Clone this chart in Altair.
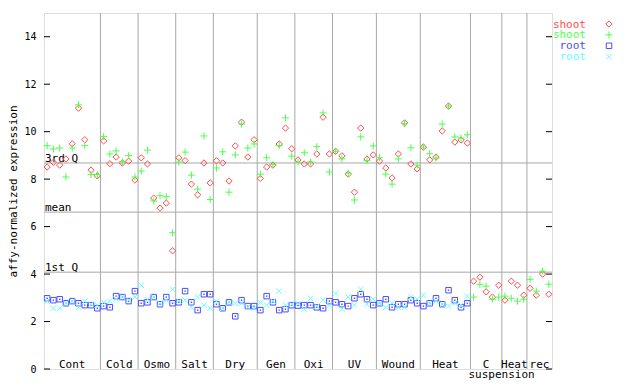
import altair as alt
import pandas as pd

# ---------------- data ----------------
group_names = ["Cont", "Cold", "Osmo", "Salt", "Dry", "Gen", "Oxi", "UV",
               "Wound", "Heat", "C", "Heat", "rec"]
group_sizes = [9, 6, 6, 6, 7, 6, 6, 7, 7, 8, 5, 4, 4]
second_line_label = "suspension"
second_line_group = 10

shoot_red = [
    8.51, 8.71, 8.59, 8.85, 9.49, 10.99, 9.66, 8.38, 8.14,
    9.61, 8.65, 8.93, 8.68, 8.76, 7.96,
    8.90, 8.64, 7.20, 6.78, 6.99, 4.98,
    8.90, 8.78, 7.79, 7.34, 8.68, 7.84,
    8.77, 8.68, 7.92, 9.40, 10.40, 8.93, 9.66,
    8.03, 8.51, 8.59, 9.48, 10.15, 9.28,
    8.81, 8.64, 8.64, 9.06, 10.61, 9.06,
    9.17, 8.98, 8.21, 7.45, 10.15, 8.85, 9.02,
    8.76, 8.47, 8.05, 9.06, 10.37, 8.64, 8.43,
    9.35, 8.81, 8.93, 10.03, 11.08, 9.56, 9.65, 9.52,
    3.70, 3.87, 3.25, 3.03, 3.53,
    2.90, 3.70, 3.53, 3.11,
    3.40, 3.11, 4.00, 3.15,
]
shoot_green = [
    9.41, 9.27, 9.31, 8.09, 9.31, 11.13, 9.41, 8.19, 8.19,
    9.79, 9.06, 9.19, 8.73, 8.99, 8.09,
    8.34, 9.22, 7.08, 7.30, 7.26, 5.74,
    8.72, 9.14, 8.17, 7.58, 9.82, 7.14,
    8.47, 9.15, 7.45, 9.02, 10.32, 9.31, 9.48,
    8.21, 8.90, 8.61, 9.41, 10.58, 8.97,
    8.71, 9.11, 8.72, 9.37, 10.79, 8.30,
    9.17, 8.85, 8.25, 7.12, 9.78, 8.78, 9.40,
    8.90, 8.21, 7.79, 8.85, 10.34, 9.32, 8.59,
    9.35, 9.07, 8.89, 10.32, 11.08, 9.78, 9.73, 9.87,
    3.03, 3.57, 3.49, 2.94, 3.03,
    3.07, 2.98, 2.86, 2.94,
    3.78, 3.28, 4.12, 3.57,
]
root_blue = [
    2.98, 2.90, 2.94, 2.77, 2.86, 2.77, 2.69, 2.69, 2.56,
    2.65, 2.60, 3.07, 3.03, 2.86, 3.28,
    2.77, 2.81, 3.03, 2.73, 3.03, 2.77,
    2.81, 3.28, 2.81, 2.48, 3.15, 3.15,
    2.73, 2.56, 2.81, 2.22, 2.90, 2.65, 2.65,
    2.48, 3.07, 2.81, 2.48, 2.52, 2.69,
    2.67, 2.69, 2.69, 2.60, 2.56, 2.86,
    2.81, 2.73, 2.65, 2.98, 3.15, 2.94, 2.69,
    2.77, 2.94, 2.60, 2.73, 2.73, 2.90, 2.77,
    2.65, 2.77, 2.98, 2.73, 3.32, 2.90, 2.60, 2.77,
]
root_cyan = [
    2.86, 2.56, 2.56, 2.77, 2.86, 2.60, 2.86, 2.73, 2.69,
    2.81, 2.86, 2.94, 3.03, 2.90, 3.03,
    3.53, 2.94, 3.03, 2.77, 2.90, 3.36,
    2.86, 2.90, 2.60, 3.03, 2.69, 2.56,
    2.86, 2.56, 2.81, 2.77, 2.77, 2.60, 2.56,
    2.81, 2.69, 2.86, 3.28, 2.69, 2.73,
    2.75, 2.52, 2.98, 2.65, 2.90, 2.69,
    3.19, 2.52, 3.03, 2.69, 3.36, 2.73, 2.94,
    2.77, 2.60, 2.77, 2.60, 2.60, 3.03, 2.94,
    3.11, 2.77, 2.86, 2.73, 2.65, 2.77, 2.69, 3.07,
]

quart_labels = ["3rd Q", "mean", "1st Q"]
quart_values = [8.68, 6.61, 4.08]
y_ticks = [0, 2, 4, 6, 8, 10, 12, 14]

legend_labels = ["shoot", "shoot", "root", "root"]

# ---------------- styling ----------------
FONT = "DejaVu Sans Mono"
C_RED = "#ff4c4c"
C_GREEN = "#4cff4c"
C_BLUE = "#4c4cff"
C_CYAN = "#66ffff"
GRID = "#a8a8a8"
PLUS = "M-1,0L1,0M0,-1L0,1"
XSYM = "M-1,-1L1,1M-1,1L1,-1"

W, H = 508, 356

xs = alt.Scale(domain=[0.5, sum(group_sizes) + 0.5], nice=False, zero=False)
ys = alt.Scale(domain=[0, 15], nice=False, zero=True)
yaxis = alt.Axis(
    values=y_ticks, ticks=False, domain=False, grid=False,
    labelPadding=8, labelFont=FONT, labelFontSize=10, labelColor="black",
    title="affy-normalized expression", titleFont=FONT, titleFontSize=11,
    titleFontWeight="normal", titleColor="black", titlePadding=5,
)


def Y():
    return alt.Y("v:Q", scale=ys, axis=yaxis, title="affy-normalized expression")


def X(field):
    return alt.X(field, scale=xs, axis=None)


# derived tables
bounds, centers, starts = [], [], []
c = 0
for s in group_sizes:
    starts.append(c + 0.5)
    centers.append(c + 0.5 + s / 2)
    c += s
    bounds.append(c + 0.5)

vgrid = alt.Chart(pd.DataFrame({"b": bounds[:-1]})).mark_rule(
    color=GRID, strokeWidth=1
).encode(x=X("b:Q"))

qdf = pd.DataFrame({"v": quart_values, "lab": quart_labels})
hgrid = alt.Chart(qdf).mark_rule(color=GRID, strokeWidth=1).encode(y=Y())

qtext = alt.Chart(qdf).mark_text(
    align="left", baseline="alphabetic", font=FONT, fontSize=11, color="black", dx=1, dy=-1
).encode(x=alt.value(0), y=Y(), text="lab:N")

tick_df = pd.DataFrame({"v": y_ticks})
ticks_left = alt.Chart(tick_df).mark_rule(color="black").encode(
    y=Y(), x=alt.value(0), x2=alt.value(6)
)
ticks_right = alt.Chart(tick_df).mark_rule(color="black").encode(
    y=Y(), x=alt.value(W - 6), x2=alt.value(W)
)


def pts(vals, color, shape, size, filled=False):
    df = pd.DataFrame({"i": list(range(1, len(vals) + 1)), "v": vals})
    return alt.Chart(df).mark_point(
        shape=shape, size=size, filled=filled, color=color,
        strokeWidth=1, opacity=1
    ).encode(x=X("i:Q"), y=Y())


red = pts(shoot_red, C_RED, "diamond", 40)
green = pts(shoot_green, C_GREEN, PLUS, 49)
blue = pts(root_blue, C_BLUE, "square", 30)
blue_dot = pts(root_blue, C_BLUE, "square", 2, filled=True)
cyan = pts(root_cyan, C_CYAN, XSYM, 30)

cat = alt.Chart(pd.DataFrame({"c": centers, "lab": group_names})).mark_text(
    align="center", baseline="alphabetic", font=FONT, fontSize=11, color="black"
).encode(x=X("c:Q"), y=alt.value(H - 1), text="lab:N")

susp = alt.Chart(pd.DataFrame({"c": [starts[second_line_group]], "lab": [second_line_label]})).mark_text(
    align="left", baseline="alphabetic", font=FONT, fontSize=11, color="black", dx=-2
).encode(x=X("c:Q"), y=alt.value(H + 8.5), text="lab:N")

leg_colors = [C_RED, C_GREEN, C_BLUE, C_CYAN]
leg_shapes = ["diamond", PLUS, "square", XSYM]
leg_sizes = [40, 49, 30, 30]
legend_layers = []
for k in range(4):
    ybase = 14.5 + 10.9 * k
    legend_layers.append(
        alt.Chart(pd.DataFrame({"lab": [legend_labels[k]]})).mark_text(
            align="right", baseline="alphabetic", font=FONT, fontSize=11, color=leg_colors[k]
        ).encode(x=alt.value(W + 34), y=alt.value(ybase), text="lab:N")
    )
    legend_layers.append(
        alt.Chart(pd.DataFrame({"lab": [legend_labels[k]]})).mark_point(
            shape=leg_shapes[k], size=leg_sizes[k], filled=False, color=leg_colors[k],
            strokeWidth=1, opacity=1
        ).encode(x=alt.value(W + 57), y=alt.value(ybase - 3.5))
    )

chart = alt.layer(
    hgrid, vgrid, qtext, ticks_left, ticks_right,
    red, green, blue, blue_dot, cyan, cat, susp, *legend_layers
).properties(
    width=W, height=H,
    autosize=alt.AutoSizeParams(type="none"),
    padding={"left": 36, "top": 5, "right": 80, "bottom": 11},
).configure_view(stroke="black", strokeWidth=1).configure(font=FONT)

chart.save("out.html", embed_options={"renderer": "svg", "actions": False})
